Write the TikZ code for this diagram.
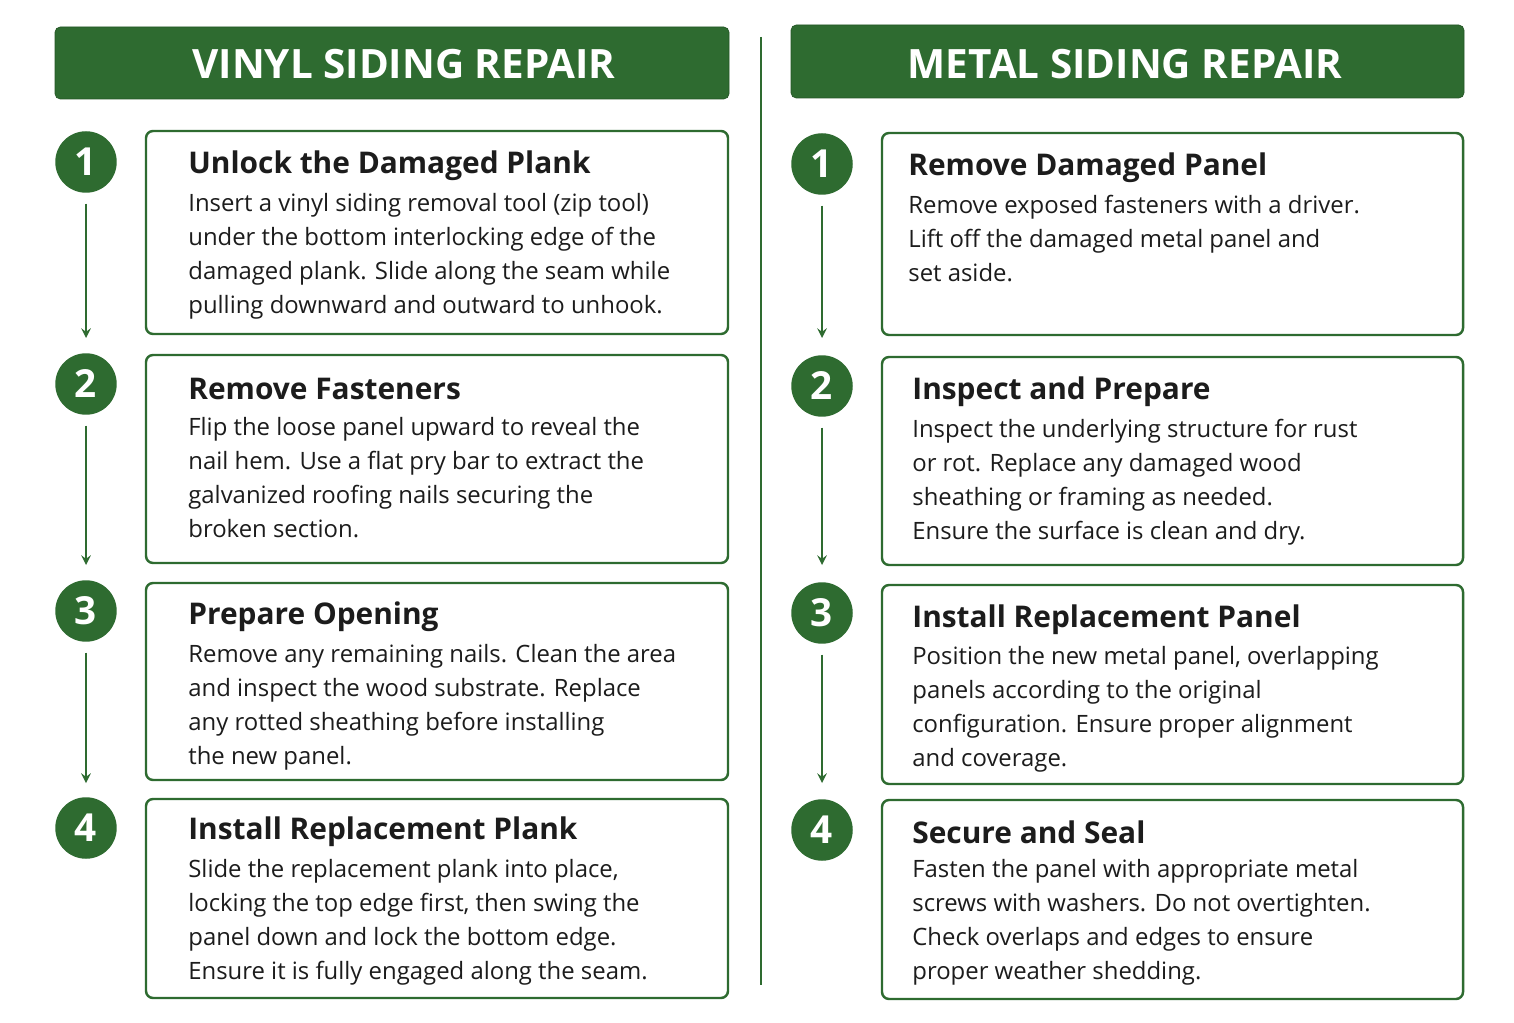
\documentclass[tikz,border=0pt]{standalone}
\usepackage{fontspec}
\setmainfont{Open Sans}
\usepackage{tikz}
\definecolor{sgreen}{HTML}{2E6B30}
\definecolor{stext}{HTML}{1C1C1C}
\tikzset{
  head/.style={fill=sgreen,draw=sgreen!80!black,rounded corners=3pt},
  headtxt/.style={text=white,font=\fontsize{23}{28}\selectfont\bfseries},
  num/.style={circle,fill=sgreen,minimum size=35pt,inner sep=0pt,text=white,font=\fontsize{22}{24}\selectfont\bfseries},
  card/.style={draw=sgreen,line width=1.4pt,rounded corners=4pt},
  ttl/.style={anchor=west,inner sep=0pt,text=stext,font=\fontsize{17}{20}\selectfont\bfseries},
  body/.style={anchor=north west,inner sep=0pt,text=stext,align=left,font=\fontsize{13.6}{19.3}\selectfont},
  flow/.style={draw=sgreen,line width=1.4pt,-stealth,shorten <=6pt}
}
\begin{document}
\begin{tikzpicture}[x=0.02cm,y=-0.02cm]
\useasboundingbox[fill=white] (0,0) rectangle (1514,1023);
% headers and divider
\draw[head] (55,27) rectangle (729,99);
\node[headtxt] (vhead) at (404,64) {VINYL SIDING REPAIR};
\draw[head] (791,25) rectangle (1464,98);
\node[headtxt] (mhead) at (1125,64) {METAL SIDING REPAIR};
\draw[sgreen,line width=1.4pt] (761,37) -- (761,985);
% cards
\foreach \a/\b in {131/334,355/563,583/780,799/998}
  \draw[card] (146,\a) rectangle (728,\b);
\foreach \a/\b in {133/335,357/565,585/784,800/999}
  \draw[card] (882,\a) rectangle (1463,\b);
% step circles and arrows
\foreach \n/\y/\e in {1/162/338,2/384/565,3/611/783,4/828/0}{
  \node[num] (v\n) at (86,\y) {\n};
  \node[num] (m\n) at (822,\y+2) {\n};
  \ifnum\e>0
    \coordinate (ve\n) at (86,\e);
    \coordinate (me\n) at (822,\e);
    \draw[flow] (v\n) -- (ve\n);
    \draw[flow] (m\n) -- (me\n);
  \fi
}
% vinyl texts
\node[ttl] (vt1) at (188,166) {Unlock the Damaged Plank};
\node[body] (vx1) at (188,193) {Insert a vinyl siding removal tool (zip tool)\\under the bottom interlocking edge of the\\damaged plank. Slide along the seam while\\pulling downward and outward to unhook.};
\node[ttl] (vt2) at (188,389) {Remove Fasteners};
\node[body] (vx2) at (188,417) {Flip the loose panel upward to reveal the\\nail hem. Use a flat pry bar to extract the\\galvanized roofing nails securing the\\broken section.};
\node[ttl] (vt3) at (188,617) {Prepare Opening};
\node[body] (vx3) at (188,644) {Remove any remaining nails. Clean the area\\and inspect the wood substrate. Replace\\any rotted sheathing before installing\\the new panel.};
\node[ttl] (vt4) at (188,832) {Install Replacement Plank};
\node[body] (vx4) at (188,859) {Slide the replacement plank into place,\\locking the top edge first, then swing the\\panel down and lock the bottom edge.\\Ensure it is fully engaged along the seam.};
% metal texts
\node[ttl] (mt1) at (908,168) {Remove Damaged Panel};
\node[body] (mx1) at (908,195) {Remove exposed fasteners with a driver.\\Lift off the damaged metal panel and\\set aside.};
\node[ttl] (mt2) at (912,392) {Inspect and Prepare};
\node[body] (mx2) at (912,419) {Inspect the underlying structure for rust\\or rot. Replace any damaged wood\\sheathing or framing as needed.\\Ensure the surface is clean and dry.};
\node[ttl] (mt3) at (912,620) {Install Replacement Panel};
\node[body] (mx3) at (912,646) {Position the new metal panel, overlapping\\panels according to the original\\configuration. Ensure proper alignment\\and coverage.};
\node[ttl] (mt4) at (912,832) {Secure and Seal};
\node[body] (mx4) at (912,859) {Fasten the panel with appropriate metal\\screws with washers. Do not overtighten.\\Check overlaps and edges to ensure\\proper weather shedding.};
\end{tikzpicture}
\end{document}
